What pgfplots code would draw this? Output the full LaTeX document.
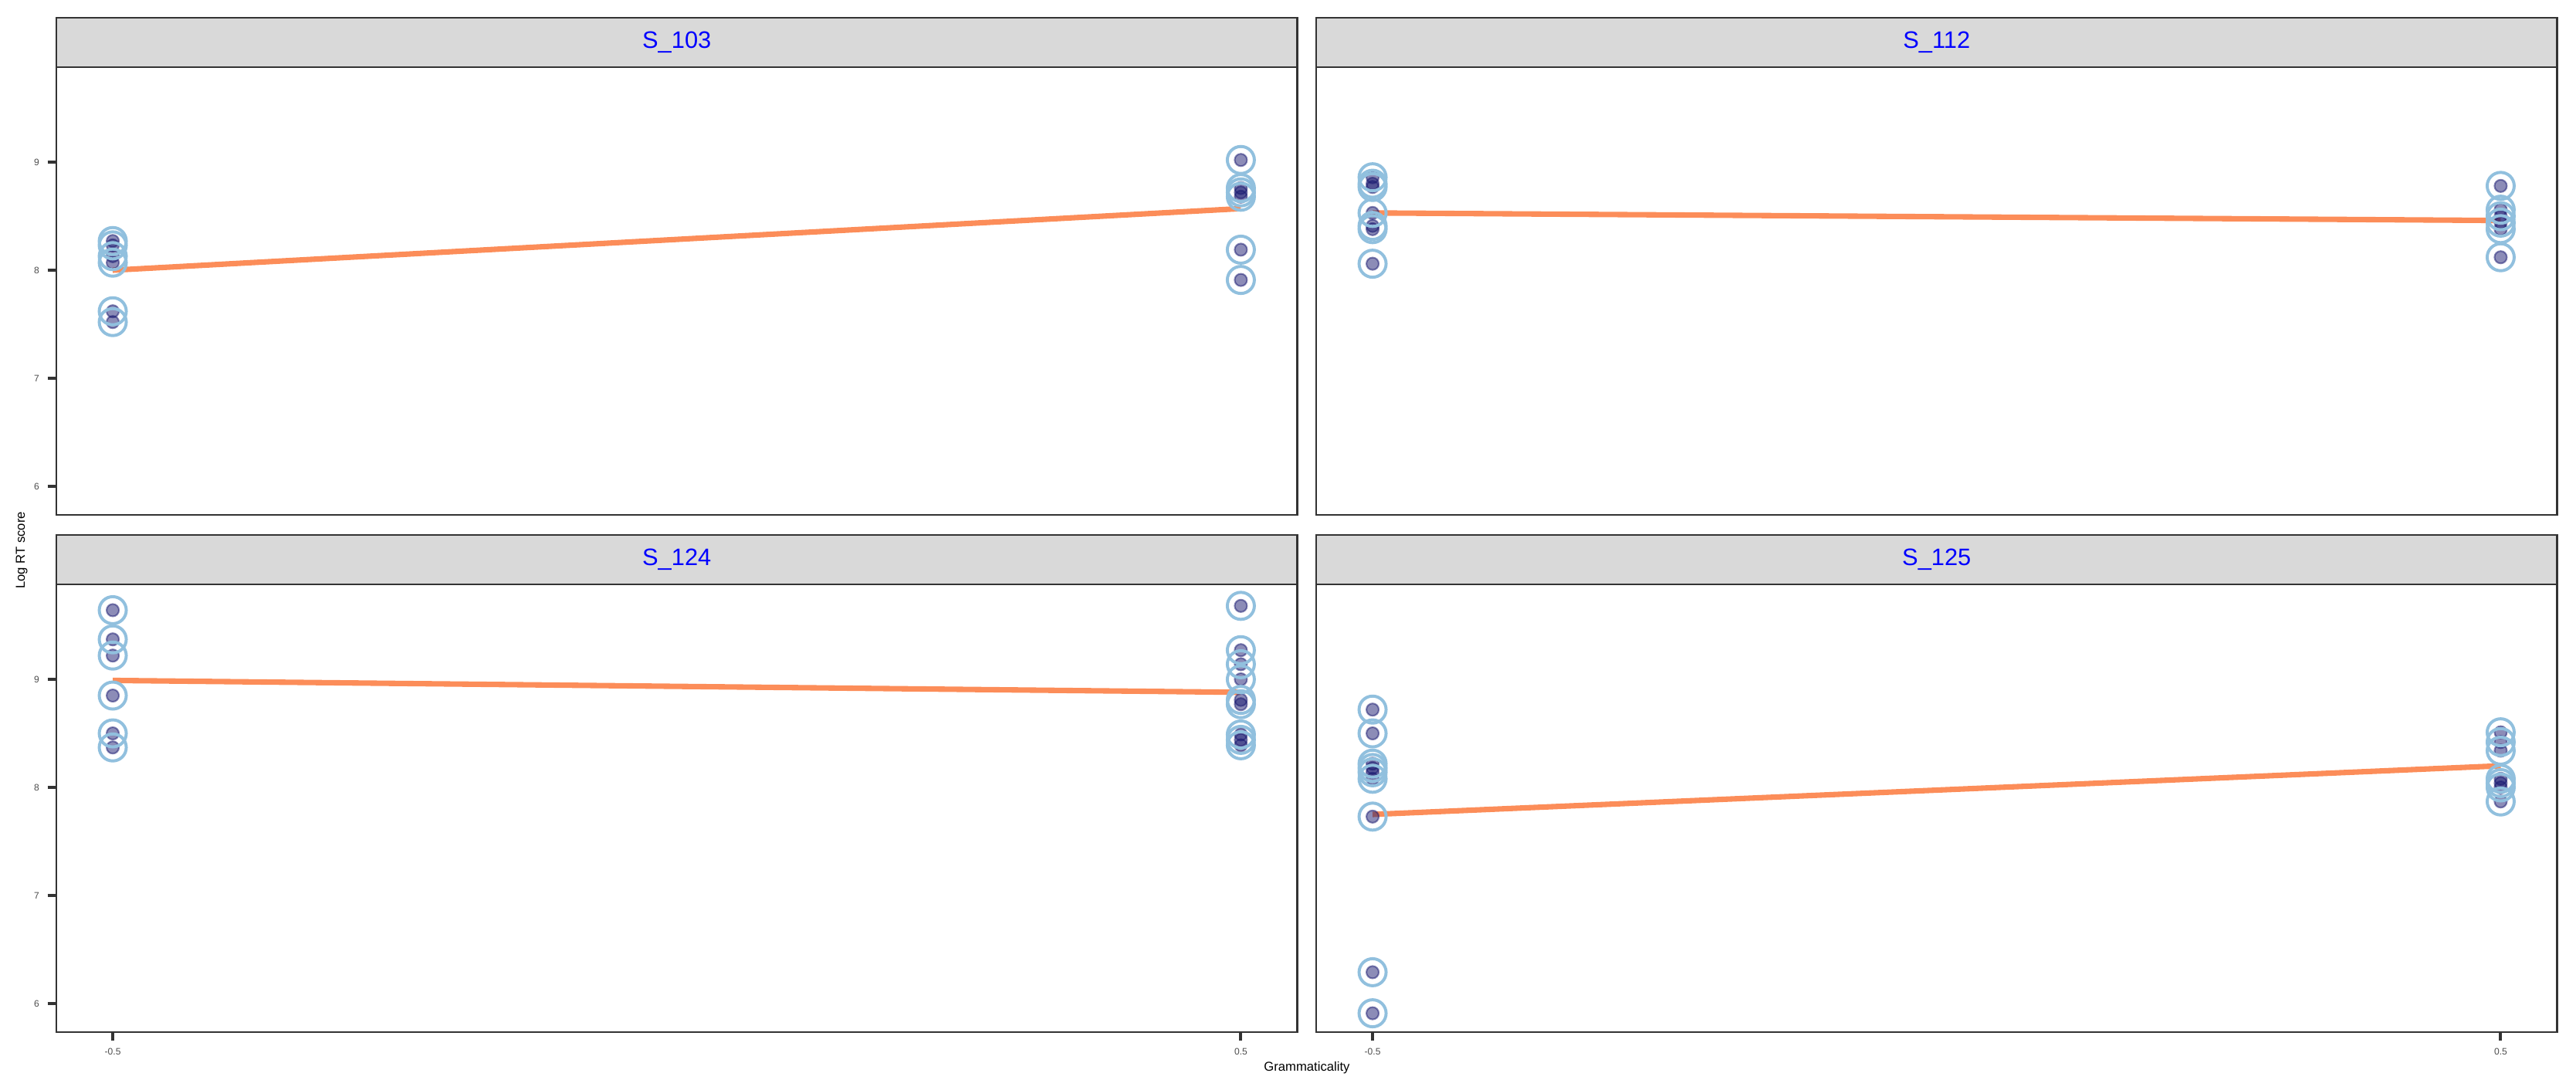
\documentclass[border=0pt]{standalone}
\usepackage{fontspec}
\setmainfont{Liberation Sans}
\usepackage{pgfplots}
\usepackage{pgfplotstable}
\pgfplotsset{compat=1.18}
\definecolor{gray33}{RGB}{51,51,51}
\definecolor{gray4D}{RGB}{77,77,77}
\definecolor{stripgray}{RGB}{217,217,217}
\definecolor{dotnavy}{RGB}{25,25,112}
\definecolor{ringblue}{RGB}{145,192,222}
\definecolor{fitorange}{RGB}{252,141,89}

\pgfplotstableread{
x y
-0.5 8.27
-0.5 8.23
-0.5 8.13
-0.5 8.07
-0.5 7.62
-0.5 7.52
0.5 9.02
0.5 8.76
0.5 8.72
0.5 8.68
0.5 8.19
0.5 7.91
}\tabA
\pgfplotstableread{
x y
-0.5 8.86
-0.5 8.80
-0.5 8.77
-0.5 8.53
-0.5 8.41
-0.5 8.38
-0.5 8.06
0.5 8.78
0.5 8.56
0.5 8.50
0.5 8.44
0.5 8.38
0.5 8.12
}\tabB
\pgfplotstableread{
x y
-0.5 9.64
-0.5 9.37
-0.5 9.22
-0.5 8.85
-0.5 8.50
-0.5 8.37
0.5 9.68
0.5 9.27
0.5 9.14
0.5 9.00
0.5 8.81
0.5 8.77
0.5 8.49
0.5 8.44
0.5 8.39
}\tabC
\pgfplotstableread{
x y
-0.5 8.72
-0.5 8.50
-0.5 8.22
-0.5 8.18
-0.5 8.14
-0.5 8.08
-0.5 7.73
-0.5 6.29
-0.5 5.91
0.5 8.51
0.5 8.42
0.5 8.34
0.5 8.08
0.5 8.04
0.5 8.00
0.5 7.87
}\tabD

\pgfplotsset{
  panel/.style={
    anchor=south west, scale only axis,
    width=385.8pt, height=139.2pt,
    xmin=-0.55, xmax=0.55, ymin=5.736, ymax=9.879,
    axis line style={draw=gray33, line width=0.5pt},
    tick align=outside,
    major tick length=2.76pt,
    major tick style={draw=gray33, line width=0.96pt},
    xtick pos=bottom, ytick pos=left,
    tick label style={font=\fontsize{2.9}{3}\selectfont, text=gray4D},
    xticklabel style={yshift=1.2pt},
    yticklabel style={xshift=1pt},
    /pgf/number format/assume math mode=true,
    clip=false,
  },
  noxt/.style={xtick=\empty},
  noyt/.style={ytick=\empty},
  yt/.style={ytick={6,7,8,9}, yticklabels={6,7,8,9}},
  xt/.style={xtick={-0.5,0.5}, xticklabels={{-0.5},{0.5}}},
  dots/.style={only marks, mark=*, mark size=1.92pt,
    mark options={fill=dotnavy, draw=dotnavy, line width=0.5pt, opacity=0.5}},
  rings/.style={only marks, mark=o, mark size=4.2pt,
    mark options={draw=ringblue, line width=0.95pt}},
  fit/.style={draw=fitorange, line width=1.7pt, no marks},
}

\begin{document}
\begin{tikzpicture}
\path[use as bounding box] (0,0) rectangle (800.88pt,338.88pt);

% strips
\draw[fill=stripgray, draw=gray33, line width=0.5pt] (17.52pt,318.0pt) rectangle (403.32pt,333.36pt);
\node[text=blue, font=\fontsize{7.4}{8}\selectfont] at (210.42pt,325.68pt) {S\_103};
\draw[fill=stripgray, draw=gray33, line width=0.5pt] (409.2pt,318.0pt) rectangle (795.0pt,333.36pt);
\node[text=blue, font=\fontsize{7.4}{8}\selectfont] at (602.1pt,325.68pt) {S\_112};
\draw[fill=stripgray, draw=gray33, line width=0.5pt] (17.52pt,157.2pt) rectangle (403.32pt,172.56pt);
\node[text=blue, font=\fontsize{7.4}{8}\selectfont] at (210.42pt,164.88pt) {S\_124};
\draw[fill=stripgray, draw=gray33, line width=0.5pt] (409.2pt,157.2pt) rectangle (795.0pt,172.56pt);
\node[text=blue, font=\fontsize{7.4}{8}\selectfont] at (602.1pt,164.88pt) {S\_125};

\begin{axis}[panel, at={(17.52pt,178.8pt)}, noxt, yt]
\addplot[dots] table {\tabA};
\addplot[fit] coordinates {(-0.5,8.00) (0.5,8.57)};
\addplot[rings] table {\tabA};
\end{axis}

\begin{axis}[panel, at={(409.2pt,178.8pt)}, noxt, noyt]
\addplot[dots] table {\tabB};
\addplot[fit] coordinates {(-0.5,8.53) (0.5,8.46)};
\addplot[rings] table {\tabB};
\end{axis}

\begin{axis}[panel, at={(17.52pt,18.0pt)}, xt, yt]
\addplot[dots] table {\tabC};
\addplot[fit] coordinates {(-0.5,8.99) (0.5,8.88)};
\addplot[rings] table {\tabC};
\end{axis}

\begin{axis}[panel, at={(409.2pt,18.0pt)}, xt, noyt]
\addplot[dots] table {\tabD};
\addplot[fit] coordinates {(-0.5,7.75) (0.5,8.20)};
\addplot[rings] table {\tabD};
\end{axis}

\node[rotate=90, font=\fontsize{4}{5}\selectfont] at (6.72pt,167.76pt) {Log RT score};
\node[font=\fontsize{4}{5}\selectfont] at (406.3pt,6.96pt) {Grammaticality};
\end{tikzpicture}
\end{document}
